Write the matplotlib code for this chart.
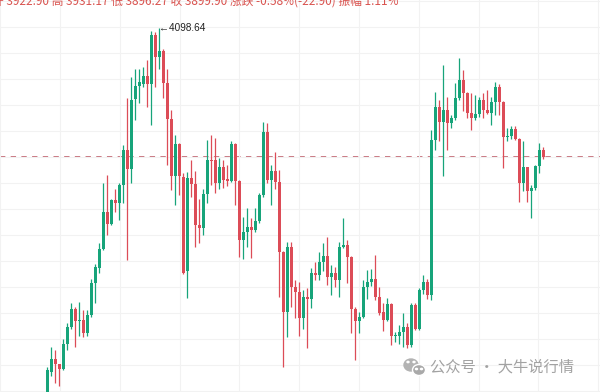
import numpy as np
import matplotlib
matplotlib.use("Agg")
import matplotlib.pyplot as plt
from matplotlib.patches import Ellipse, Circle

# ---------------------------------------------------------------
# OHLC data (daily candles)
# ---------------------------------------------------------------
opens = [3530, 3570, 3589, 3582, 3574, 3613, 3639, 3666, 3647, 3649,
         3629, 3657, 3706, 3730, 3758, 3816, 3797, 3834, 3830, 3857,
         3911, 3881, 3989, 4009, 4012, 4024, 4012, 4088, 4054, 4063,
         4014, 3958, 3870, 3920, 3869, 3724, 3867, 3858, 3795, 3791,
         3843, 3896, 3895, 3860, 3885, 3866, 3863, 3920, 3863, 3772,
         3785, 3793, 3788, 3802, 3842, 3938, 3865, 3879, 3862, 3754,
         3662, 3761, 3700, 3693, 3652, 3685, 3682, 3722, 3718, 3739,
         3747, 3715, 3722, 3711, 3762, 3765, 3746, 3666, 3648, 3654,
         3700, 3707, 3713, 3684, 3662, 3649, 3674, 3624, 3624, 3631,
         3639, 3611, 3672, 3636, 3695, 3708, 3688, 3926, 3977, 3954,
         3973, 3952, 3960, 3990, 4018, 3999, 3968, 3960, 3966, 3988,
         3973, 3967, 3985, 4008, 3985, 3930, 3932, 3943, 3927, 3860,
         3884, 3847, 3852, 3886, 3910]
highs = [3577, 3608, 3603, 3582, 3620, 3644, 3675, 3670, 3677, 3665,
         3664, 3713, 3736, 3767, 3860, 3872, 3836, 3850, 3860, 3918,
         3990, 4023, 4035, 4036, 4039, 4049, 4094, 4093, 4098.64, 4066,
         4035, 3973, 3934, 3921, 3875, 3877, 3896, 3878, 3835, 3850,
         3926, 3934, 3929, 3898, 3896, 3888, 3924, 3921, 3864, 3808,
         3821, 3806, 3821, 3844, 3954, 3952, 3888, 3908, 3880, 3756,
         3769, 3770, 3711, 3708, 3695, 3698, 3729, 3739, 3754, 3767,
         3777, 3734, 3731, 3770, 3806, 3773, 3747, 3669, 3662, 3711,
         3726, 3727, 3749, 3700, 3675, 3683, 3675, 3631, 3642, 3660,
         3644, 3675, 3676, 3698, 3718, 3713, 3942, 4000, 3988, 4042,
         3993, 3965, 4014, 4052, 4034, 4000, 3998, 3995, 3993, 3998,
         4003, 3993, 4016, 4013, 3986, 3944, 3948, 3947, 3929, 3924,
         3885, 3857, 3888, 3921, 3915]
lows = [3522, 3563, 3553, 3548, 3572, 3603, 3636, 3608, 3625, 3623,
        3624, 3654, 3675, 3721, 3757, 3780, 3795, 3816, 3803, 3829,
        3742, 3860, 3957, 3983, 4008, 3977, 3949, 4008, 4035, 3990,
        3888, 3849, 3826, 3842, 3720, 3683, 3839, 3762, 3767, 3780,
        3829, 3857, 3845, 3850, 3852, 3855, 3862, 3826, 3746, 3743,
        3762, 3744, 3785, 3798, 3839, 3860, 3826, 3850, 3685, 3577,
        3623, 3670, 3652, 3625, 3636, 3606, 3667, 3711, 3711, 3724,
        3703, 3688, 3700, 3685, 3760, 3706, 3629, 3588, 3629, 3652,
        3681, 3702, 3680, 3657, 3633, 3647, 3611, 3616, 3613, 3608,
        3606, 3608, 3634, 3634, 3690, 3681, 3680, 3911, 3924, 3870,
        3911, 3944, 3957, 3988, 3970, 3960, 3942, 3957, 3962, 3960,
        3966, 3949, 3965, 3965, 3883, 3924, 3927, 3926, 3831, 3847,
        3831, 3806, 3849, 3875, 3897]
closes = [3572, 3589, 3582, 3574, 3613, 3639, 3666, 3647, 3649, 3629,
          3657, 3706, 3731, 3758, 3816, 3797, 3834, 3830, 3857, 3911,
          3881, 3988, 4009, 4015, 4024, 4012, 4088, 4054, 4063, 4014,
          3958, 3870, 3920, 3870, 3722, 3867, 3858, 3795, 3791, 3843,
          3896, 3894, 3860, 3885, 3865, 3863, 3920, 3863, 3772, 3785,
          3793, 3788, 3802, 3842, 3938, 3865, 3879, 3862, 3754, 3662,
          3761, 3700, 3693, 3652, 3685, 3682, 3722, 3718, 3739, 3747,
          3715, 3722, 3711, 3762, 3765, 3746, 3666, 3648, 3654, 3700,
          3707, 3713, 3684, 3660, 3649, 3674, 3624, 3626, 3631, 3639,
          3611, 3672, 3636, 3695, 3708, 3688, 3926, 3977, 3954, 3973,
          3952, 3960, 3990, 4018, 3998, 3967, 3960, 3966, 3988, 3972,
          3967, 3985, 4008, 3985, 3931, 3932, 3943, 3927, 3860, 3884,
          3847, 3852, 3886, 3910, 3899.9]

header_text = "开 3922.90 高 3931.17 低 3896.27 收 3899.90 涨跌 -0.58%(-22.90) 振幅 1.11%"
watermark = "公众号 · 大牛说行情"

UP = "#17a47a"
DOWN = "#dc4c57"

plt.rcParams['font.family'] = ['Noto Sans CJK SC', 'DejaVu Sans']

fig = plt.figure(figsize=(6, 3.92), dpi=100)
ax = fig.add_axes([0, 0, 1, 1])

o = np.array(opens, dtype=float)
h = np.array(highs, dtype=float)
l = np.array(lows, dtype=float)
c = np.array(closes, dtype=float)
x = np.arange(len(o))
up = c >= o
colors = np.where(up, UP, DOWN)

# wicks
ax.vlines(x, l, h, colors=colors, linewidth=0.9, zorder=2)
# bodies
body_bottom = np.minimum(o, c)
body_h = np.maximum(np.abs(c - o), 1.8)
ax.bar(x, body_h, bottom=body_bottom, width=0.72, color=colors,
       linewidth=0, zorder=3)

# last price line
ax.axhline(c[-1], color="#b9505c", linewidth=1.1, dashes=(3.5, 3.5), zorder=1)

# grid
ax.set_xticks(np.arange(-11.8, 140, 14.95))
ax.set_yticks(np.arange(3540, 4180, 40))
ax.grid(True, color="#f2f2f2", linewidth=0.8, zorder=0)
ax.tick_params(length=0, labelleft=False, labelbottom=False)
for s in ax.spines.values():
    s.set_visible(False)

ax.set_xlim(-11.83, 138.17)
ax.set_ylim(3538.5, 4141.5)

# max marker
imax = int(np.argmax(h))
ax.annotate("\u2190" + f"{h[imax]:.2f}", xy=(imax - 0.1, h[imax]),
            fontsize=7.2, family=['Liberation Sans', 'DejaVu Sans'],
            va="center", ha="left", color="#222222", zorder=5)

# header (cut off at top edge, as in the source screenshot)
fig.text(-0.013, 1 - 5 / 392, header_text, fontsize=8.5, color="#d9534f",
         va="baseline", ha="left")

# watermark
fig.text(430 / 600, 1 - 367 / 392, watermark, fontsize=11, color="#a2a2a2",
         va="center", ha="left")
W, H = 600.0, 392.0
fig.patches.append(Ellipse((411 / W, 1 - 365 / H), 14 / W, 12 / H,
                           transform=fig.transFigure, color="#b3b3b3", zorder=5))
fig.patches.append(Ellipse((419 / W, 1 - 370 / H), 13 / W, 11 / H,
                           transform=fig.transFigure, facecolor="#a9a9a9",
                           edgecolor="white", linewidth=1.0, zorder=6))
for ex, ey in [(408, 362), (414, 362), (416.5, 369), (421.5, 369)]:
    fig.patches.append(Circle((ex / W, 1 - ey / H), 1.0 / W,
                              transform=fig.transFigure, color="white", zorder=7))

fig.savefig("out.png", dpi=100)
